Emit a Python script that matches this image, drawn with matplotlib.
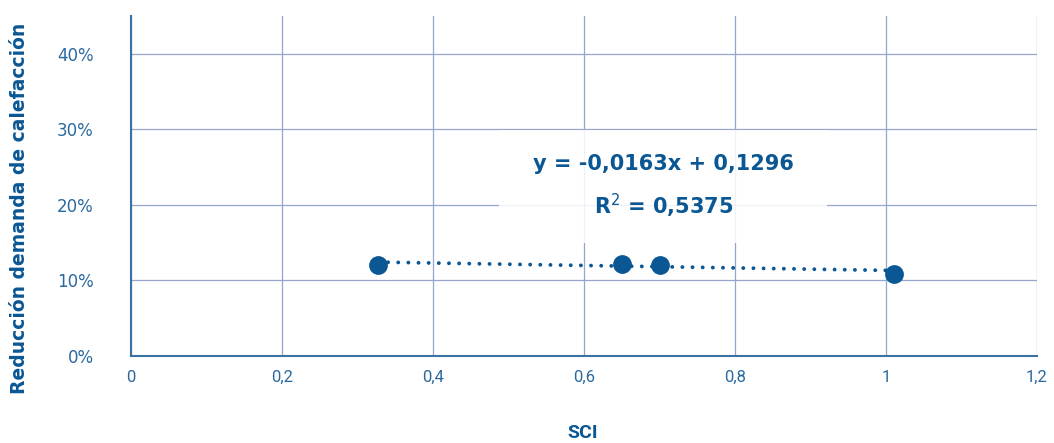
import numpy as np
import matplotlib
matplotlib.use("Agg")
import matplotlib.pyplot as plt
from matplotlib.patches import Rectangle
from matplotlib.ticker import FuncFormatter

# data
sci = [0.327, 0.650, 0.701, 1.011]
reduccion = [0.1205, 0.1220, 0.1205, 0.1086]
slope = -0.0163
intercept = 0.1296
r2_text = "0,5375"

x_ticks = [0, 0.2, 0.4, 0.6, 0.8, 1.0, 1.2]
x_labels = ["0", "0,2", "0,4", "0,6", "0,8", "1", "1,2"]
y_ticks = [0, 0.1, 0.2, 0.3, 0.4]

dark = "#0a5794"
tick_col = "#2a69a0"
grid_col = "#95a6cc"

plt.rcParams['font.family'] = ['DejaVu Sans']
narrow = ['Roboto', 'DejaVu Sans']

fig = plt.figure(figsize=(10.54, 4.43), dpi=100)
ax = fig.add_axes([0.1243, 0.1964, 0.8596, 0.7675])

# trend line
xt = np.array([sci[0], sci[-1]])
ax.plot(xt, slope * xt + intercept, color=dark, lw=2.8,
        linestyle=(0, (0.01, 2.6)), dash_capstyle='round', zorder=3)
ax.plot(sci, reduccion, 'o', color=dark, markersize=12.5, zorder=4)

ax.set_xlim(0, 1.2)
ax.set_ylim(0, 0.45)
ax.set_xticks(x_ticks)
ax.set_xticklabels(x_labels, family=narrow, fontsize=12)
ax.set_yticks(y_ticks)
ax.yaxis.set_major_formatter(FuncFormatter(lambda v, p: f"{v*100:.0f}%"))
ax.tick_params(length=0, labelcolor=tick_col)
ax.tick_params(axis='y', labelsize=12, pad=27)
ax.tick_params(axis='x', pad=10)

ax.grid(True, color=grid_col, lw=0.9)
ax.set_axisbelow(True)
for s in ['top', 'right']:
    ax.spines[s].set_visible(False)
for s in ['left', 'bottom']:
    ax.spines[s].set_color("#3a72a6")
    ax.spines[s].set_linewidth(1.5)

ax.set_ylabel("Reducción demanda de calefacción", fontsize=13.5,
              fontweight='bold', color=dark)
ax.yaxis.set_label_coords(-0.113, 0.435)
ax.set_xlabel("SCI", fontsize=14, fontweight='bold', color=dark, family=narrow)
ax.xaxis.set_label_coords(0.499, -0.2)

# label box of the trend line
ax.add_patch(Rectangle((0.487, 0.150), 0.435, 0.149, fc='white', ec='none',
                       alpha=0.85, zorder=2))
eq = f"y = {slope:.4f}x + {intercept:.4f}".replace(".", ",")
ax.text(0.705, 0.2235, eq + "\n" + f"R$^2$ = {r2_text}", ha='center', va='center',
        fontsize=15, fontweight='bold', color=dark, linespacing=1.8, zorder=5)

fig.savefig("out.png", dpi=100, facecolor='white')
